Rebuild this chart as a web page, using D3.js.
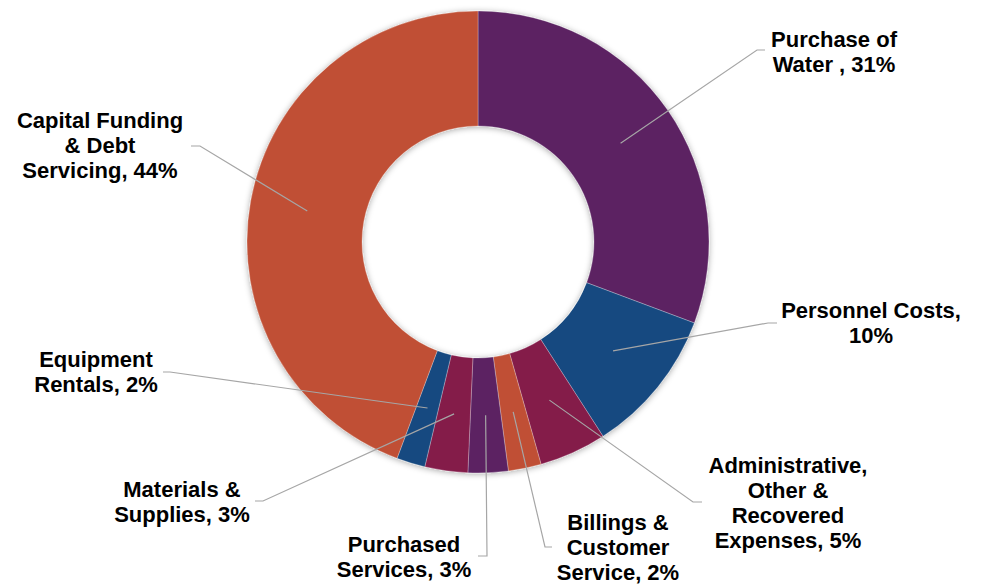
<!DOCTYPE html>
<html>
<meta charset="utf-8">
<head>
<script src="https://d3js.org/d3.v7.min.js"></script>
<title>budget donut</title>
<style>
html, body {
	margin: 0;
	padding: 0;
	background: white;
}
svg {
	display: block;
	font-family: 'Liberation Sans', 'Arial', sans-serif;
}
.label {
	font-size: 22px;
	font-weight: 700;
	fill: #000;
}
</style>
</head>
<body>
<svg></svg>
<script>
var width = 982;
var height = 585;

// data, clockwise from 12 o'clock
var categories = ["Purchase of Water", "Personnel Costs", "Administrative, Other & Recovered Expenses",
	"Billings & Customer Service", "Purchased Services", "Materials & Supplies",
	"Equipment Rentals", "Capital Funding & Debt Servicing"];
var shares = [30.7, 10.2, 4.7, 2.3, 2.8, 3.0, 2.0, 44.3];
var labelLines = [
	["Purchase of", "Water , 31%"],
	["Personnel Costs,", "10%"],
	["Administrative,", "Other &", "Recovered", "Expenses, 5%"],
	["Billings &", "Customer", "Service, 2%"],
	["Purchased", "Services, 3%"],
	["Materials &", "Supplies, 3%"],
	["Equipment", "Rentals, 2%"],
	["Capital Funding", "& Debt", "Servicing, 44%"]
];
var colors = ["#5b2262", "#174a80", "#841a4a", "#c04f34", "#5b2262", "#841a4a", "#174a80", "#c04f34"];

// where each label sits: text centre x, first baseline, leader elbow and end
var labelPos = [
	{x: 834, y: 47, ex: 757, ey: 50, hx: 765},
	{x: 871, y: 318, ex: 768, ey: 323, hx: 777},
	{x: 788, y: 473, ex: 693, ey: 502, hx: 702},
	{x: 618, y: 530, ex: 545, ey: 547, hx: 552},
	{x: 404, y: 552, ex: 487, ey: 556, hx: 478},
	{x: 182, y: 497, ex: 263, ey: 501, hx: 255},
	{x: 96, y: 367, ex: 170, ey: 372, hx: 163},
	{x: 100, y: 128, ex: 200, ey: 146, hx: 191}
];

var cx = 478, cy = 242;
var outerR = 231, innerR = 116;
var lineH = 25;

var svg = d3.select("svg")
	.attr("width", width)
	.attr("height", height);

var defs = svg.append("defs");
var f = defs.append("filter")
	.attr("id", "shadow")
	.attr("x", "-20%").attr("y", "-20%")
	.attr("width", "140%").attr("height", "140%");
f.append("feDropShadow")
	.attr("dx", 0).attr("dy", 1)
	.attr("stdDeviation", 3)
	.attr("flood-color", "#000")
	.attr("flood-opacity", 0.35);

var pie = d3.pie().sort(null).value(function(d) { return d; });
var arcs = pie(shares);
var arc = d3.arc().innerRadius(innerR).outerRadius(outerR);

var g = svg.append("g").attr("transform", "translate(" + cx + "," + cy + ")");

g.append("g")
	.attr("filter", "url(#shadow)")
	.selectAll("path")
	.data(arcs)
	.enter().append("path")
		.attr("d", arc)
		.style("fill", function(d, i) { return colors[i]; })
		.style("stroke", "rgba(255,255,255,0.45)")
		.style("stroke-width", 0.6);

// leader lines
svg.append("g")
	.selectAll("polyline")
	.data(arcs)
	.enter().append("polyline")
		.attr("points", function(d, i) {
			var c = arc.centroid(d);
			var p = labelPos[i];
			return [[cx + c[0], cy + c[1]], [p.ex, p.ey], [p.hx, p.ey]].join(" ");
		})
		.style("fill", "none")
		.style("stroke", "#a6a6a6")
		.style("stroke-width", 1.2);

// labels
var labels = svg.append("g")
	.selectAll("text")
	.data(categories)
	.enter().append("text")
		.attr("class", "label")
		.attr("text-anchor", "middle")
		.attr("x", function(d, i) { return labelPos[i].x; })
		.attr("y", function(d, i) { return labelPos[i].y; });

labels.each(function(d, i) {
	var t = d3.select(this);
	labelLines[i].forEach(function(s, k) {
		t.append("tspan")
			.attr("x", labelPos[i].x)
			.attr("y", labelPos[i].y + k * lineH)
			.text(s);
	});
});
</script>
</body>
</html>
